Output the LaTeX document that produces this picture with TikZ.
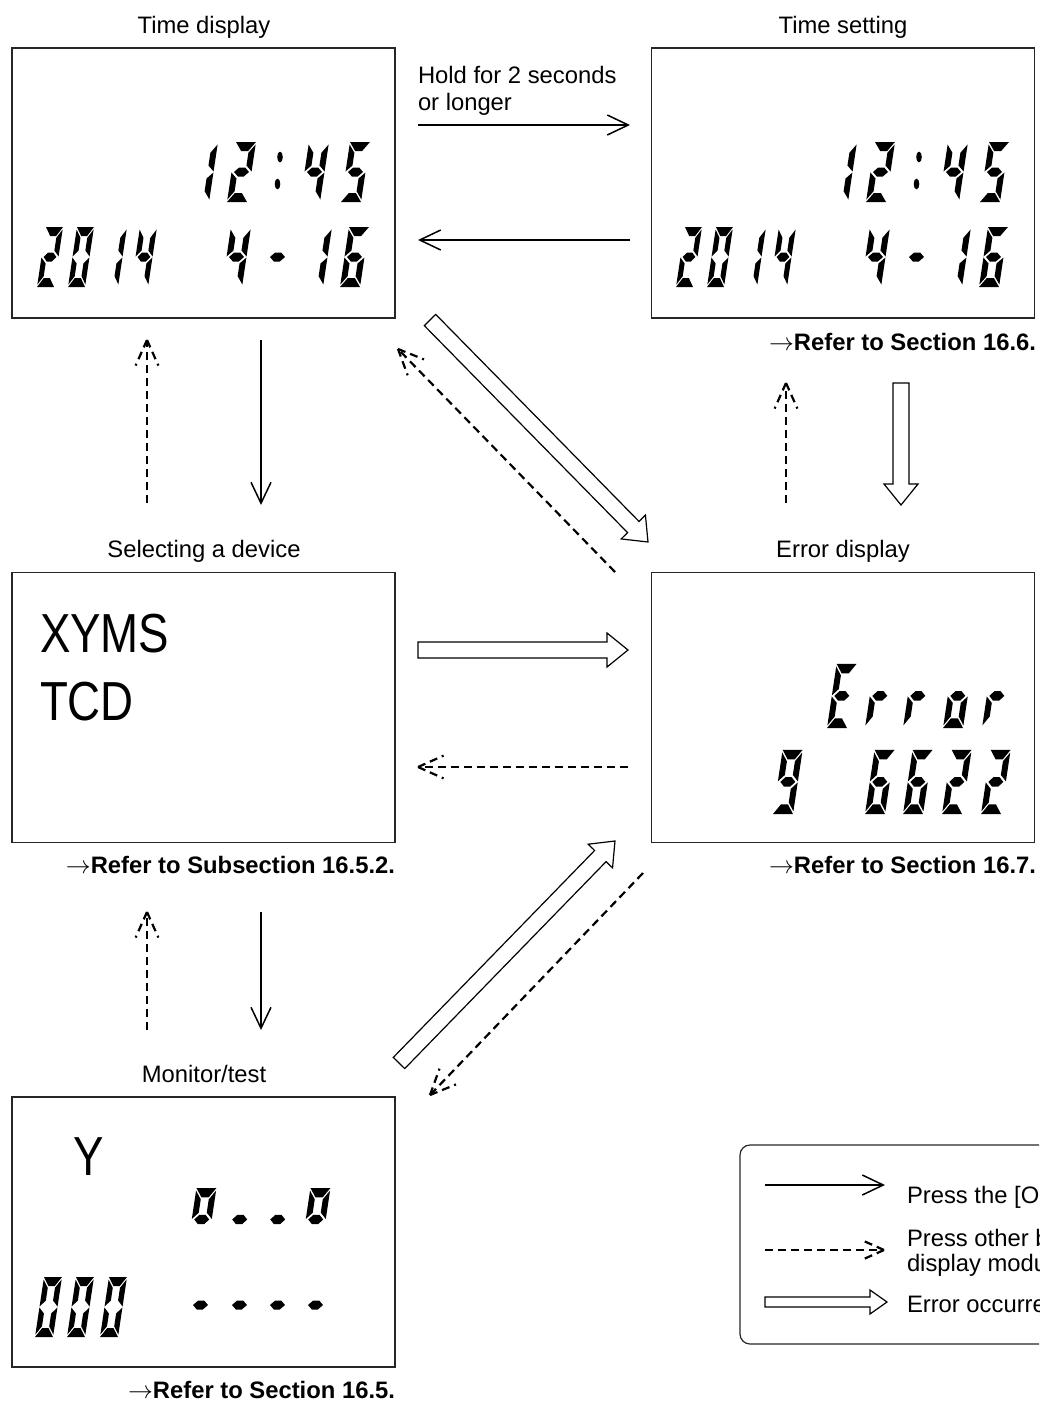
\documentclass[tikz,border=0pt]{standalone}
\usepackage{fontspec}
\setmainfont{Liberation Sans}
\usetikzlibrary{arrows.meta,calc}

% seven-segment pieces in a 20 x 60 cell (local y up)
\newcommand\segA{\fill (0,60) -- (20,60) -- (13.5,51) -- (6.5,51) -- cycle;}
\newcommand\segD{\fill (0,0) -- (20,0) -- (13.5,9) -- (6.5,9) -- cycle;}
\newcommand\segG{\fill (2.5,30) -- (7,34.5) -- (13,34.5) -- (17.5,30) -- (13,25.5) -- (7,25.5) -- cycle;}
\newcommand\segF{\fill (0,30.5) -- (6,36.5) -- (6,49.2) -- (0,57.5) -- cycle;}
\newcommand\segE{\fill (0,29.5) -- (6,23.5) -- (6,10.8) -- (0,2.5) -- cycle;}
\newcommand\segB{\fill (20,30.5) -- (14,36.5) -- (14,49.2) -- (20,57.5) -- cycle;}
\newcommand\segC{\fill (20,29.5) -- (14,23.5) -- (14,10.8) -- (20,2.5) -- cycle;}
\newcommand\lcd[5]{\begin{scope}[shift={(#3,#4)},yscale=-1,xslant=-0.15,xscale=#1,yscale=#2]#5\end{scope}}

\newcommand\timescreen[1]{%
\begin{scope}[shift={(#1,0)}]
 \lcd{1}{1}{189}{202}{\segB\segC}
 \lcd{1}{1}{227}{202}{\segA\segB\segG\segE\segD}
 \fill (280,157) ellipse (2.8 and 5.4);
 \fill (277.5,184) ellipse (2.8 and 5.4);
 \lcd{1}{1}{300}{202}{\segF\segG\segB\segC}
 \lcd{1}{1}{341}{202}{\segA\segF\segG\segC\segD}
 \lcd{0.85}{1}{37}{287}{\segA\segB\segG\segE\segD}
 \lcd{0.85}{1}{68}{287}{\segA\segB\segC\segD\segE\segF}
 \lcd{0.85}{1}{101}{287}{\segB\segC}
 \lcd{0.85}{1}{131}{287}{\segF\segG\segB\segC}
 \lcd{1}{1}{222}{287}{\segF\segG\segB\segC}
 \lcd{1}{1}{263}{287}{\segG}
 \lcd{1}{1}{303}{287}{\segB\segC}
 \lcd{1}{1}{340}{287}{\segA\segF\segG\segE\segC\segD}
\end{scope}}

\newcommand\dasharrow[3]{%
  \draw[dline] (#1) -- (#2);
  \draw[dline] (#2) -- ($(#2)!#3!24:(#1)$);
  \draw[dline] (#2) -- ($(#2)!#3!-24:(#1)$);}

\newcommand\hollowarrow[5]{%
  \coordinate (hh) at ($(#2)!#5!(#1)$);
  \draw[hollowline] ($(#1)!#3!90:(#2)$) -- ($(hh)!#3!-90:(#1)$) -- ($(hh)!#4!-90:(#1)$) -- (#2)
     -- ($(hh)!#4!90:(#1)$) -- ($(hh)!#3!90:(#1)$) -- ($(#1)!#3!-90:(#2)$) -- cycle;}

\begin{document}
\begin{tikzpicture}[x=1pt,y=-1pt,
  every node/.style={inner sep=0pt,outer sep=0pt},
  screen/.style={draw=black!85,line width=1.2pt,minimum width=383pt,minimum height=270pt},
  title/.style={anchor=base,font=\fontsize{23.8}{28}\selectfont},
  reftext/.style={anchor=base east,font=\fontsize{23.8}{28}\selectfont\bfseries},
  plain/.style={anchor=base west,font=\fontsize{23.8}{28}\selectfont},
  bigtext/.style={anchor=base west,font=\fontsize{55}{60}\selectfont},
  sarrow/.style={line width=1.5pt,-{Straight Barb[length=21pt,width=20pt]}},
  dline/.style={line width=2.2pt,dash pattern=on 8pt off 5pt},
  hollowline/.style={line width=1.2pt,fill=white,line join=miter}]
\useasboundingbox (0,0) rectangle (1039,1403);
\clip (0,0) rectangle (1039,1403);

% screens
\node[screen] (td) at (203.5,183) {};
\node[screen] (ts) at (843,183) {};
\node[screen] (sd) at (203.5,707.5) {};
\node[screen] (ed) at (843,707.5) {};
\node[screen] (mt) at (203.5,1232) {};

% titles
\node[title] (tdt) at (204,33) {Time display};
\node[title] (tst) at (843,33) {Time setting};
\node[title] (sdt) at (204,557) {Selecting a device};
\node[title] (edt) at (843,557) {Error display};
\node[title] (mtt) at (204,1082) {Monitor/test};

% references
\node[reftext] (tsref) at (1036,350) {$\rightarrow$Refer to Section 16.6.};
\node[reftext] (sdref) at (395,873) {$\rightarrow$Refer to Subsection 16.5.2.};
\node[reftext] (edref) at (1036,873) {$\rightarrow$Refer to Section 16.7.};
\node[reftext] (mtref) at (395,1398) {$\rightarrow$Refer to Section 16.5.};

% displays
\timescreen{0}
\timescreen{639}

\node[bigtext] (xyms) at (40,652) {\scalebox{0.83}[1]{XYMS}};
\node[bigtext] (tcd) at (40,720) {\scalebox{0.83}[1]{TCD}};

\lcd{1}{1.07}{827}{728}{\segA\segF\segG\segE\segD}
\lcd{1}{1.07}{865}{728}{\segE\segG}
\lcd{1}{1.07}{903}{728}{\segE\segG}
\lcd{1}{1.07}{943}{728}{\segG\segE\segC\segD}
\lcd{1}{1.07}{982}{728}{\segE\segG}
\lcd{1}{1.07}{773}{814}{\segA\segB\segF\segG\segC\segD}
\lcd{1}{1.07}{865}{814}{\segA\segF\segG\segE\segC\segD}
\lcd{1}{1.07}{903}{814}{\segA\segF\segG\segE\segC\segD}
\lcd{1}{1.07}{942}{814}{\segA\segB\segG\segE\segD}
\lcd{1}{1.07}{981}{814}{\segA\segB\segG\segE\segD}

\node[bigtext] (ylab) at (73,1175) {\scalebox{0.83}[1]{Y}};
\lcd{1}{1.05}{187}{1251}{\segA\segB\segF\segG}
\lcd{1}{1.05}{225}{1251}{\segG}
\lcd{1}{1.05}{263}{1251}{\segG}
\lcd{1}{1.05}{301}{1251}{\segA\segB\segF\segG}
\lcd{0.9}{1}{35}{1337}{\segA\segB\segC\segD\segE\segF}
\lcd{0.9}{1}{67}{1337}{\segA\segB\segC\segD\segE\segF}
\lcd{0.9}{1}{100}{1337}{\segA\segB\segC\segD\segE\segF}
\lcd{1}{1}{186}{1335}{\segG}
\lcd{1}{1}{225}{1335}{\segG}
\lcd{1}{1}{263}{1335}{\segG}
\lcd{1}{1}{301}{1335}{\segG}

% connector end points
\coordinate (p1) at (418,125); \coordinate (p2) at (630,125);
\coordinate (p3) at (630,240); \coordinate (p4) at (418,240);
\coordinate (p5) at (261,340); \coordinate (p6) at (261,505);
\coordinate (p7) at (147,503); \coordinate (p8) at (147,340);
\coordinate (p9) at (261,912); \coordinate (p10) at (261,1030);
\coordinate (p11) at (147,1030); \coordinate (p12) at (147,912);
\coordinate (q1) at (786,503); \coordinate (q2) at (786,383);
\coordinate (q3) at (901,383); \coordinate (q4) at (901,505);
\coordinate (q5) at (418,650); \coordinate (q6) at (628,650);
\coordinate (q7) at (628,767); \coordinate (q8) at (418,767);
\coordinate (r1) at (430,320); \coordinate (r2) at (648,542);
\coordinate (r3) at (615,572); \coordinate (r4) at (398,349);
\coordinate (r5) at (399,1063); \coordinate (r6) at (615,841);
\coordinate (r7) at (643,873); \coordinate (r8) at (430,1095);

\node[plain] (hold1) at (418,83) {Hold for 2 seconds};
\node[plain] (hold2) at (418,110) {or longer};

\draw[sarrow] (p1) -- (p2);
\draw[sarrow] (p3) -- (p4);
\draw[sarrow] (p5) -- (p6);
\dasharrow{p7}{p8}{28pt}
\draw[sarrow] (p9) -- (p10);
\dasharrow{p11}{p12}{28pt}
\dasharrow{q1}{q2}{28pt}
\hollowarrow{q3}{q4}{8pt}{17pt}{21pt}
\hollowarrow{q5}{q6}{8pt}{17pt}{21pt}
\dasharrow{q7}{q8}{28pt}
\hollowarrow{r1}{r2}{8pt}{17pt}{21pt}
\dasharrow{r3}{r4}{28pt}
\hollowarrow{r5}{r6}{8pt}{17pt}{21pt}
\dasharrow{r7}{r8}{28pt}

% legend
\node[draw=black!85,line width=1.2pt,rounded corners=10pt,minimum width=340pt,minimum height=199pt,anchor=north west] (legend) at (740,1145) {};
\coordinate (l1a) at (765,1185); \coordinate (l1b) at (885,1185);
\coordinate (l2a) at (765,1250); \coordinate (l2b) at (884,1250);
\coordinate (l3a) at (765,1302); \coordinate (l3b) at (887,1302);
\draw[sarrow] (l1a) -- (l1b);
\dasharrow{l2a}{l2b}{22pt}
\hollowarrow{l3a}{l3b}{5pt}{12pt}{17pt}
\node[plain] (lt1) at (907,1203) {Press the [O};
\node[plain] (lt2) at (907,1246) {Press other b};
\node[plain] (lt3) at (907,1271) {display modu};
\node[plain] (lt4) at (907,1312) {Error occurre};
\end{tikzpicture}
\end{document}
